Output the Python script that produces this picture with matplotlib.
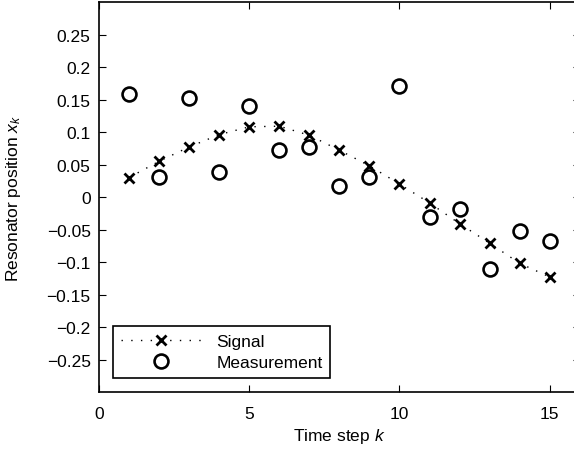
import numpy as np
import matplotlib
matplotlib.use("Agg")
import matplotlib.pyplot as plt

plt.rcParams['font.family'] = ['Liberation Sans', 'DejaVu Sans']
plt.rcParams['mathtext.fontset'] = 'custom'
plt.rcParams['mathtext.rm'] = 'Liberation Sans'
plt.rcParams['mathtext.it'] = 'Liberation Sans:italic'

# time steps and values
k = np.arange(1, 16)
signal = [0.030, 0.055, 0.077, 0.096, 0.108, 0.109, 0.095, 0.072,
          0.048, 0.020, -0.009, -0.041, -0.071, -0.102, -0.123]
measurement = [0.159, 0.031, 0.152, 0.038, 0.140, 0.073, 0.077, 0.017,
               0.031, 0.171, -0.031, -0.019, -0.110, -0.052, -0.067]

fs = 12.5

fig = plt.figure(figsize=(5.74, 4.52), dpi=100)
# axes run past the right edge of the figure (cropped like the reference)
ax = fig.add_axes([0.1725, 0.1305, 0.8375, 0.8628])

ax.plot(k, signal, color='black', linestyle=(0, (1, 6)), linewidth=1.0,
        marker='x', markersize=7, markeredgewidth=2, label='Signal')
ax.plot(k, measurement, linestyle='none', marker='o', markersize=10,
        markerfacecolor='none', markeredgecolor='black', markeredgewidth=1.9,
        label='Measurement')

ax.set_xlim(0, 16)
ax.set_ylim(-0.3, 0.3)
ax.set_xticks([0, 5, 10, 15])
ax.set_yticks([-0.25, -0.2, -0.15, -0.1, -0.05, 0, 0.05, 0.1, 0.15, 0.2, 0.25])
ax.set_yticklabels(['\u22120.25', '\u22120.2', '\u22120.15', '\u22120.1', '\u22120.05',
                    '0', '0.05', '0.1', '0.15', '0.2', '0.25'])
ax.tick_params(direction='in', length=5, width=0.8, labelsize=fs,
               top=True, right=True)
ax.tick_params(axis='x', pad=10)
ax.tick_params(axis='y', pad=6)
for s in ax.spines.values():
    s.set_linewidth(1.2)

ax.set_xlabel('Time step $k$', fontsize=fs, labelpad=4)
ax.set_ylabel('Resonator position $x_k$', fontsize=fs, labelpad=17)

leg = ax.legend(loc='lower left', fontsize=fs, fancybox=False,
                edgecolor='black', framealpha=1, borderaxespad=0.8,
                handlelength=4.6, handletextpad=0.9, borderpad=0.45,
                labelspacing=0.35)
leg.get_frame().set_linewidth(1.2)

fig.savefig('out.png', dpi=100)
